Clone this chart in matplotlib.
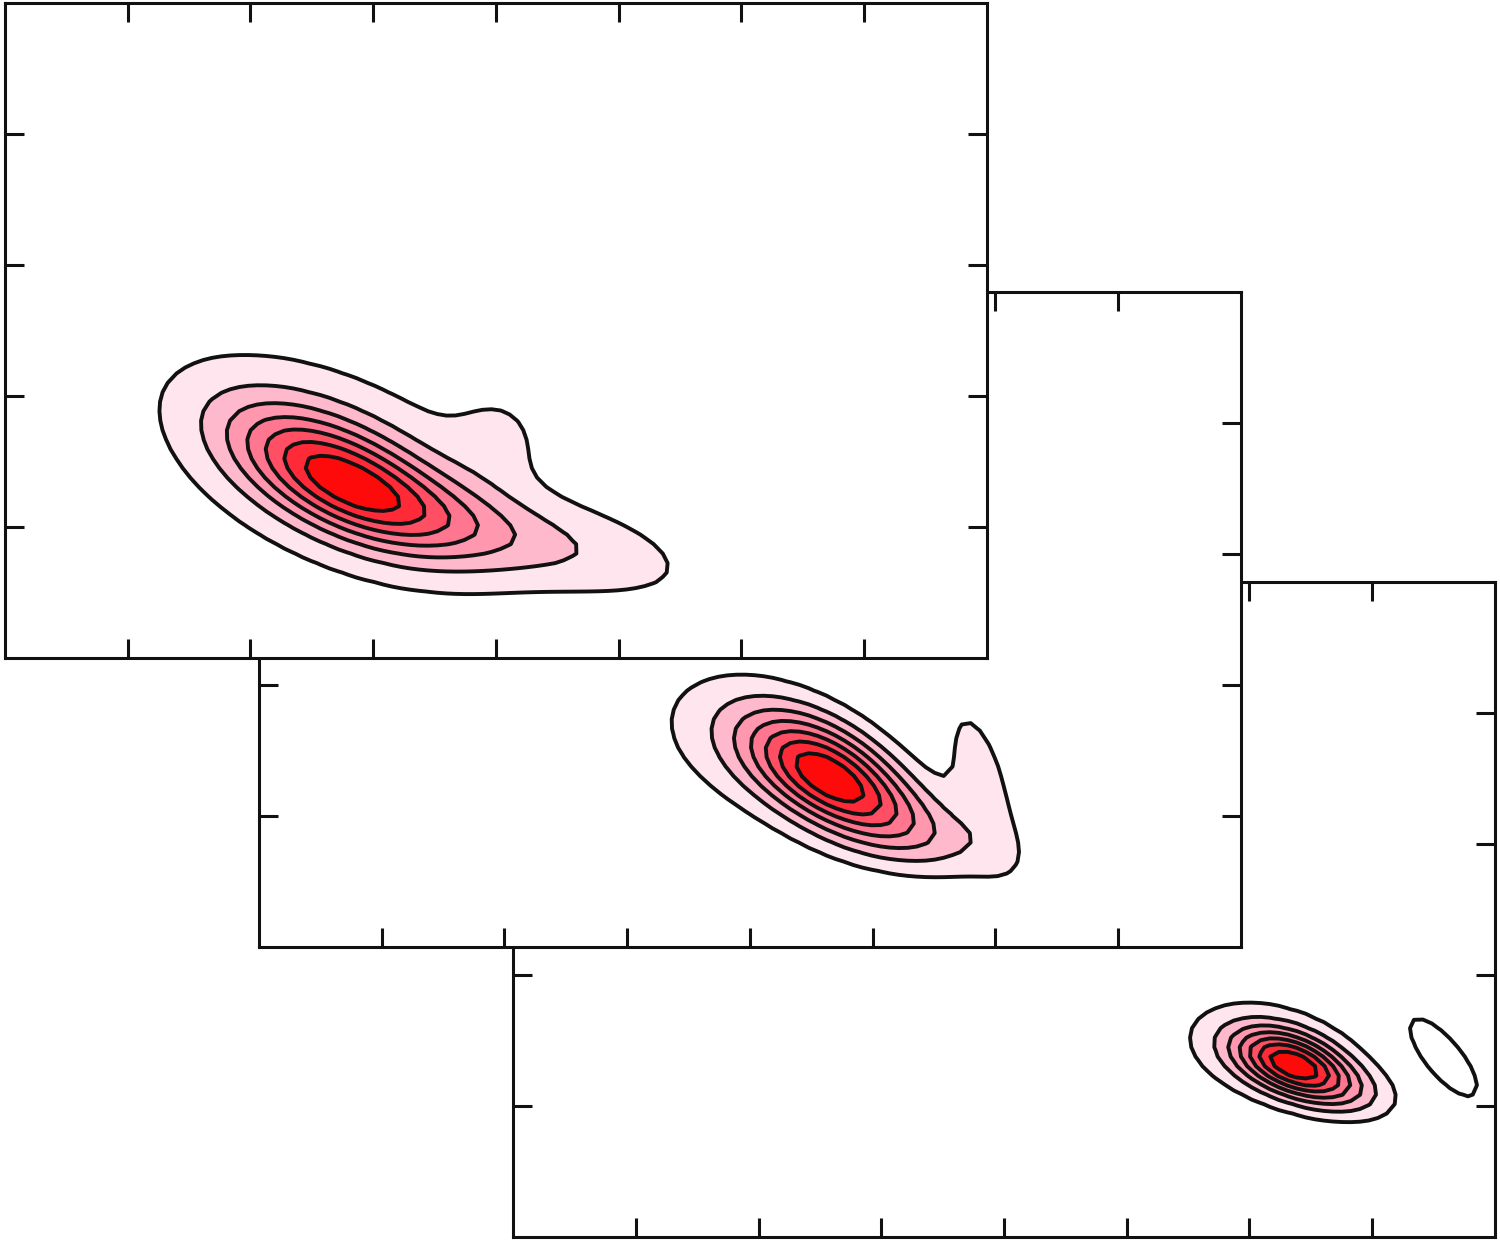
import numpy as np
import matplotlib
matplotlib.use("Agg")
import matplotlib.pyplot as plt

# ---- data: density components per panel (x, y, sigma_major, sigma_minor, angle_deg, weight)
p1_cx  = [2.72, 3.70, 2.30, 5.05, 4.05, 3.30, 3.05]
p1_cy  = [1.38, 1.03, 1.65, 0.80, 1.72, 1.50, 1.20]
p1_sx  = [0.66, 0.80, 1.00, 0.60, 0.28, 0.90, 1.50]
p1_sy  = [0.27, 0.22, 0.62, 0.24, 0.28, 0.42, 0.78]
p1_ang = [-25, -15, -22, -15, 0, -20, -18]
p1_w   = [1.00, 0.36, 0.13, 0.14, 0.12, 0.07, 0.10]

p2_cx  = [4.62, 5.20, 3.95, 5.88, 5.30]
p2_cy  = [1.33, 1.00, 1.55, 1.32, 0.75]
p2_sx  = [0.50, 0.55, 0.68, 0.52, 0.55]
p2_sy  = [0.25, 0.20, 0.40, 0.19, 0.18]
p2_ang = [-28, -20, -20, -72, -8]
p2_w   = [1.00, 0.28, 0.20, 0.21, 0.12]

p3_cx  = [6.35, 6.80, 6.10]
p3_cy  = [1.32, 1.10, 1.45]
p3_sx  = [0.34, 0.32, 0.55]
p3_sy  = [0.16, 0.15, 0.30]
p3_ang = [-18, -12, -8]
p3_w   = [1.00, 0.22, 0.20]

# separate outlined blob in panel 3
b3_cx, b3_cy, b3_sx, b3_sy, b3_ang = 7.58, 1.37, 0.30, 0.11, -48

level_fracs = [1/8, 2/8, 3/8, 4/8, 5/8, 6/8, 7/8, 1.0001]
band_colors = ["#FFE6EE", "#FFB9CC", "#FF98AE", "#FF7690", "#FF4F65", "#FF2A38", "#FF0A0A"]

x_ticks = [1, 2, 3, 4, 5, 6, 7]
y_ticks = [1, 2, 3, 4]


def gauss(X, Y, cx, cy, sx, sy, ang):
    t = np.deg2rad(ang)
    dx, dy = X - cx, Y - cy
    u = dx * np.cos(t) + dy * np.sin(t)
    v = -dx * np.sin(t) + dy * np.cos(t)
    return np.exp(-0.5 * ((u / sx) ** 2 + (v / sy) ** 2))


def field(X, Y, cx, cy, sx, sy, ang, w):
    Z = np.zeros_like(X)
    for a, b, c, d, e, f in zip(cx, cy, sx, sy, ang, w):
        Z += f * gauss(X, Y, a, b, c, d, e)
    return Z / Z.max()


gx = np.linspace(0, 8, 110)
gy = np.linspace(0, 5, 70)
X, Y = np.meshgrid(gx, gy)

fig = plt.figure(figsize=(15, 12.41), dpi=100)
W, H = 1500, 1241
aw, ah = 982 / W, 655 / H
positions = [(5 / W, 1 - 658 / H), (259 / W, 1 - 947 / H), (513 / W, 1 - 1237 / H)]
panels = [
    (p1_cx, p1_cy, p1_sx, p1_sy, p1_ang, p1_w),
    (p2_cx, p2_cy, p2_sx, p2_sy, p2_ang, p2_w),
    (p3_cx, p3_cy, p3_sx, p3_sy, p3_ang, p3_w),
]

for i in [2, 1, 0]:
    ax = fig.add_axes([positions[i][0], positions[i][1], aw, ah], zorder=10 - i)
    ax.set_facecolor("white")
    Z = field(X, Y, *panels[i])
    ax.contourf(X, Y, Z, levels=level_fracs, colors=band_colors)
    ax.contour(X, Y, Z, levels=level_fracs[:-1], colors="#111111", linewidths=2.8)
    if i == 2:
        Zb = gauss(X, Y, b3_cx, b3_cy, b3_sx, b3_sy, b3_ang)
        ax.contour(X, Y, Zb, levels=[0.45], colors="#111111", linewidths=2.8)
    ax.set_xlim(0, 8)
    ax.set_ylim(0, 5)
    ax.set_xticks(x_ticks)
    ax.set_yticks(y_ticks)
    ax.tick_params(direction="in", length=14, width=2.2, top=True, right=True,
                   labelbottom=False, labelleft=False, color="#111111")
    for s in ax.spines.values():
        s.set_linewidth(2.2)
        s.set_color("#111111")

fig.savefig("out.png", dpi=100)
